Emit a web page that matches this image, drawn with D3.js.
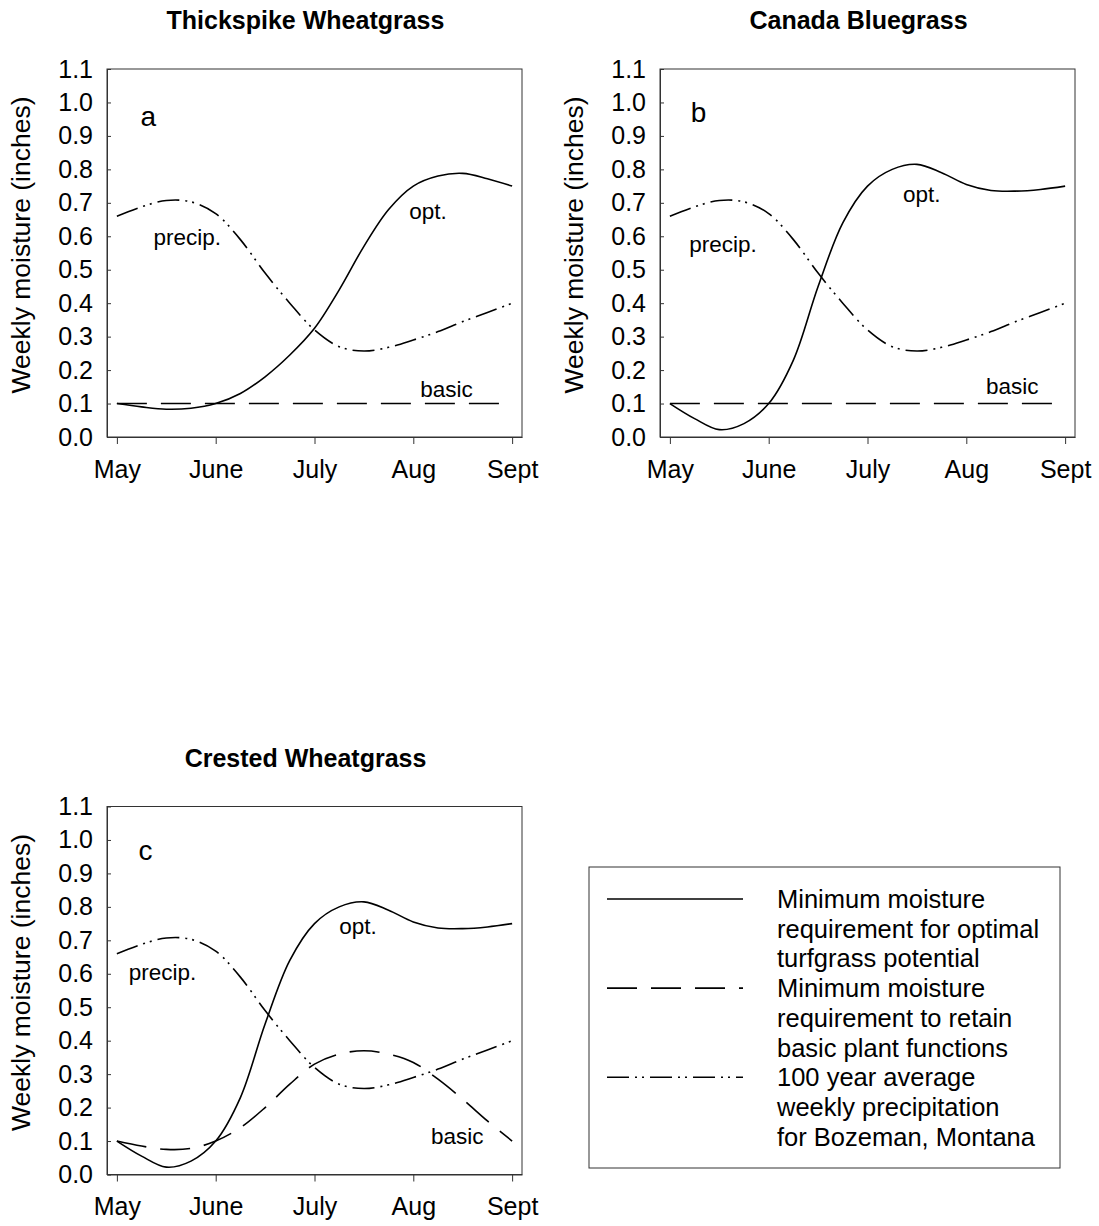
<!DOCTYPE html>
<html>
<head>
<meta charset="utf-8">
<script src="https://cdn.jsdelivr.net/npm/d3@7"></script>
<style>
body { margin: 0; background: #fff; }
svg text { font-family: Arial, "Liberation Sans", Helvetica, sans-serif; fill: #000; }
</style>
</head>
<body>
<svg id="chart" width="1099" height="1226"></svg>
<script>
// months on the x axis, curves sampled every quarter month
var months = ["May", "June", "July", "Aug", "Sept"];
var weekPos = [0, 0.25, 0.5, 0.75, 1, 1.25, 1.5, 1.75, 2, 2.25, 2.5, 2.75, 3, 3.25, 3.5, 3.75, 4];
var yTicks = [0, 0.1, 0.2, 0.3, 0.4, 0.5, 0.6, 0.7, 0.8, 0.9, 1.0, 1.1];

var precip = [0.66, 0.688, 0.707, 0.703, 0.668, 0.59, 0.49, 0.40, 0.32, 0.27, 0.257, 0.268, 0.29, 0.315, 0.345, 0.372, 0.40];

var optA = [0.10, 0.09, 0.083, 0.086, 0.10, 0.13, 0.18, 0.245, 0.325, 0.44, 0.57, 0.68, 0.75, 0.78, 0.788, 0.772, 0.75];
var optB = [0.10, 0.055, 0.022, 0.04, 0.10, 0.23, 0.45, 0.64, 0.75, 0.80, 0.815, 0.79, 0.755, 0.737, 0.735, 0.74, 0.75];
var optC = [0.10, 0.055, 0.022, 0.04, 0.10, 0.23, 0.45, 0.64, 0.75, 0.80, 0.815, 0.79, 0.755, 0.737, 0.735, 0.74, 0.75];

var basicA = [0.1, 0.1, 0.1, 0.1, 0.1, 0.1, 0.1, 0.1, 0.1, 0.1, 0.1, 0.1, 0.1, 0.1, 0.1, 0.1, 0.1];
var basicB = [0.1, 0.1, 0.1, 0.1, 0.1, 0.1, 0.1, 0.1, 0.1, 0.1, 0.1, 0.1, 0.1, 0.1, 0.1, 0.1, 0.1];
var basicC = [0.10, 0.085, 0.075, 0.078, 0.10, 0.14, 0.20, 0.27, 0.33, 0.36, 0.37, 0.36, 0.335, 0.285, 0.225, 0.16, 0.10];

var titles = ["Thickspike Wheatgrass", "Canada Bluegrass", "Crested Wheatgrass"];
var letters = ["a", "b", "c"];
var legendText = [
    ["Minimum moisture", "requirement for optimal", "turfgrass potential"],
    ["Minimum moisture", "requirement to retain", "basic plant functions"],
    ["100 year average", "weekly precipitation", "for Bozeman, Montana"]
];

var dashBasic = "30,14";
var dashPrecip = "22,6,2,5,2,6";

var svg = d3.select("#chart");

var W = 415, H = 368;

function drawPanel(left, top, title, letter, opt, basic, lab) {
    var g = svg.append("g").attr("transform", "translate(" + left + "," + top + ")");

    var x = d3.scaleLinear().domain([-0.1, 4.1]).range([0, W]);
    var y = d3.scaleLinear().domain([0, 1.1]).range([H, 0]);

    // frame
    g.append("rect")
        .attr("width", W).attr("height", H)
        .style("fill", "none").style("stroke", "#333").style("stroke-width", 1);

    var xa = g.append("g")
        .attr("transform", "translate(0," + H + ")")
        .call(d3.axisBottom(x).tickValues([0, 1, 2, 3, 4])
            .tickFormat(function(d) { return months[d]; })
            .tickSizeInner(7).tickSizeOuter(0).tickPadding(16));
    xa.selectAll("text").style("font-size", "25px");

    var ya = g.append("g")
        .call(d3.axisLeft(y).tickValues(yTicks)
            .tickFormat(d3.format(".1f"))
            .tickSizeInner(-4).tickSizeOuter(0).tickPadding(14));
    ya.selectAll("text").style("font-size", "25px");

    g.selectAll(".domain, .tick line").style("stroke", "#333");

    g.append("text")
        .attr("transform", "translate(-77," + (H / 2 - 8) + ") rotate(-90)")
        .attr("text-anchor", "middle")
        .style("font-size", "26.5px")
        .text("Weekly moisture (inches)");

    g.append("text")
        .attr("x", W / 2 - 9).attr("y", -40)
        .attr("text-anchor", "middle")
        .style("font-size", "25px").style("font-weight", "bold")
        .text(title);

    var line = d3.line()
        .x(function(d, i) { return x(weekPos[i]); })
        .y(function(d) { return y(d); })
        .curve(d3.curveCatmullRom.alpha(0.5));

    g.append("path").datum(opt).attr("d", line)
        .style("fill", "none").style("stroke", "#000").style("stroke-width", 1.6);
    g.append("path").datum(basic).attr("d", line)
        .style("fill", "none").style("stroke", "#000").style("stroke-width", 1.6)
        .style("stroke-dasharray", dashBasic);
    g.append("path").datum(precip).attr("d", line)
        .style("fill", "none").style("stroke", "#000").style("stroke-width", 1.6)
        .style("stroke-dasharray", dashPrecip);

    g.append("text").attr("x", x(lab.letter[0])).attr("y", y(lab.letter[1]))
        .style("font-size", "28px").text(letter);
    g.append("text").attr("x", x(lab.precip[0])).attr("y", y(lab.precip[1]))
        .style("font-size", "22.5px").text("precip.");
    g.append("text").attr("x", x(lab.opt[0])).attr("y", y(lab.opt[1]))
        .style("font-size", "22.5px").text("opt.");
    g.append("text").attr("x", x(lab.basic[0])).attr("y", y(lab.basic[1]))
        .style("font-size", "22.5px").text("basic");
}

drawPanel(107, 69, titles[0], letters[0], optA, basicA,
    {letter: [0.24, 0.93], precip: [0.37, 0.573], opt: [2.96, 0.653], basic: [3.07, 0.12]});
drawPanel(660, 69, titles[1], letters[1], optB, basicB,
    {letter: [0.21, 0.942], precip: [0.195, 0.553], opt: [2.36, 0.703], basic: [3.2, 0.13]});
drawPanel(107, 806.5, titles[2], letters[2], optC, basicC,
    {letter: [0.22, 0.94], precip: [0.12, 0.58], opt: [2.25, 0.72], basic: [3.18, 0.09]});

// legend
var lg = svg.append("g").attr("transform", "translate(589,867)");
lg.append("rect").attr("width", 471).attr("height", 301)
    .style("fill", "none").style("stroke", "#333").style("stroke-width", 1);

var dashes = ["none", dashBasic, dashPrecip];
var rowH = 29.7;
legendText.forEach(function(lines, k) {
    var y0 = 32 + k * 3 * rowH;
    lg.append("line")
        .attr("x1", 18).attr("x2", 154).attr("y1", y0).attr("y2", y0)
        .style("stroke", "#000").style("stroke-width", 1.6)
        .style("stroke-dasharray", dashes[k]);
    lines.forEach(function(t, j) {
        lg.append("text")
            .attr("x", 188).attr("y", y0 + 9 + j * rowH)
            .style("font-size", "25.5px")
            .text(t);
    });
});
</script>
</body>
</html>
